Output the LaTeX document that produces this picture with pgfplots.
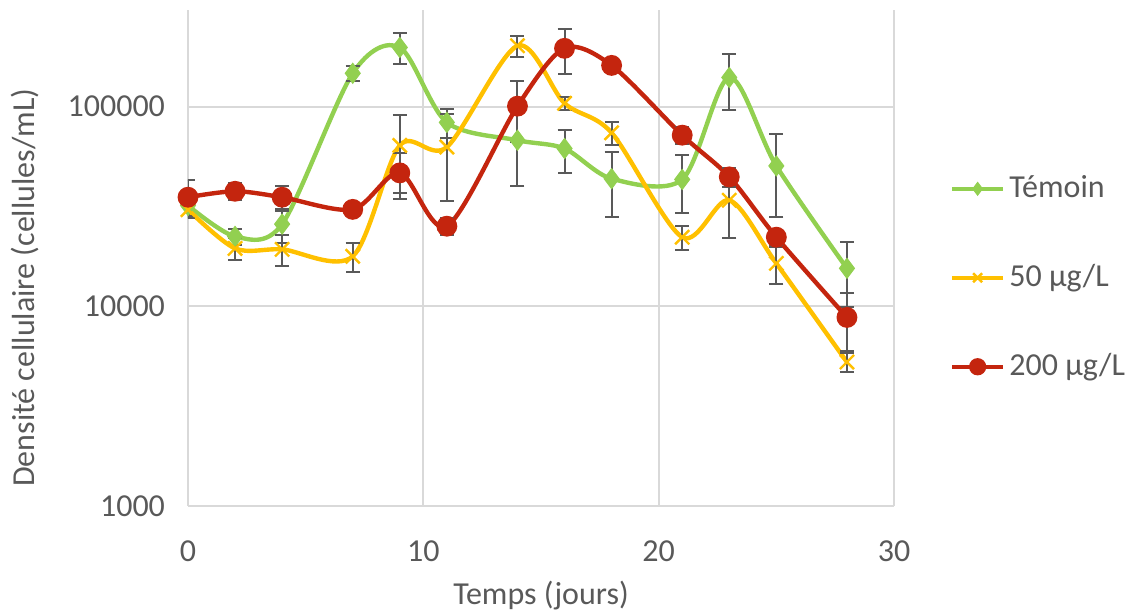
\documentclass[border=0pt]{standalone}
\usepackage{pgfplots}
\pgfplotsset{compat=1.18}
\usepackage{fontspec}
\setmainfont{Carlito}
\definecolor{cgreen}{HTML}{92D050}
\definecolor{cyellow}{HTML}{FFC000}
\definecolor{cred}{HTML}{C4250E}
\definecolor{cgrid}{HTML}{D9D9D9}
\definecolor{ctext}{HTML}{595959}
\begin{document}
\fontsize{16}{19}\selectfont
\begin{tikzpicture}
\useasboundingbox (-94pt,-52pt) rectangle (472.5pt,253pt);
\begin{axis}[
  at={(0,0)}, anchor=south west,
  scale only axis,
  width=353pt, height=248pt,
  xmin=0, xmax=30, ymode=log, ymin=1000, ymax=305000,
  xtick={0,10,20,30},
  ytick={1000,10000,100000},
  yticklabels={1000,10000,100000},
  minor ytick={}, yminorgrids=false,
  xmajorgrids, ymajorgrids,
  grid style={cgrid, line width=1pt},
  axis line style={draw=none},
  tick style={draw=none},
  tick label style={text=ctext, font=\fontsize{16}{19}\selectfont},
  /pgf/number format/assume math mode=true,
  xticklabel style={yshift=-12pt},
  yticklabel style={xshift=-6pt},
  xlabel={Temps (jours)},
  ylabel={Densité cellulaire (cellules/mL)},
  label style={text=ctext, font=\fontsize{16}{19}\selectfont},
  xlabel style={at={(axis description cs:0.5,-0.18)}, anchor=center},
  ylabel style={at={(axis description cs:-0.231,0.44)}, anchor=center},
  legend style={draw=none, fill=none, at={(axis description cs:1.07,0.46)}, anchor=west,
    font=\fontsize{16}{19}\selectfont, text=ctext, row sep=27pt},
  legend cell align=left,
  legend image code/.code={%
    \draw[#1, mark=none] (0cm,0cm) -- (0.9cm,0cm);%
    \draw[#1, only marks, mark size=3.2pt] plot coordinates {(0.45cm,0cm)};},
  error bars/y dir=both, error bars/y explicit,
  error bars/error bar style={color=ctext, line width=1pt},
  error bars/error mark options={rotate=90, mark size=3.5pt, line width=1pt, color=ctext},
]
\addplot[cgreen, line width=2.2pt, smooth, mark=diamond*, mark size=5pt, mark options={fill=cgreen, draw=cgreen, line width=0.5pt}]
coordinates {
(0,32000) +- (0,3000)
(2,22400) +- (0,2000)
(4,25800) +- (0,5000)
(7,147000) +- (0,12000)
(9,198000) +- (0,35000)
(11,83400) +- (0,14000)
(14,67900) +- (0,28000)
(16,61700) +- (0,15000)
(18,43600) +- (0,15500)
(21,43200) +- (0,14000)
(23,140000) +- (0,44000)
(25,50500) +- (0,22500)
(28,15500) +- (0,5600)
};
\addlegendentry{Témoin}
\addplot[cyellow, line width=2.2pt, smooth, mark=x, mark size=5pt, mark options={draw=cyellow, line width=1.2pt}]
coordinates {
(0,30500) +- (0,2000)
(2,19500) +- (0,2400)
(4,19300) +- (0,3400)
(7,17800) +- (0,3000)
(9,64000) +- (0,27000)
(11,62800) +- (0,29000)
(14,202000) +- (0,25000)
(16,104000) +- (0,8000)
(18,74000) +- (0,10000)
(21,22200) +- (0,3000)
(23,34000) +- (0,12000)
(25,16400) +- (0,3500)
(28,5260) +- (0,550)
};
\addlegendentry{50 µg/L}
\addplot[cred, line width=2.2pt, smooth, mark=*, mark size=4.1pt, mark options={fill=cred, draw=cred}]
coordinates {
(0,35200) +- (0,7500)
(2,37700) +- (0,3800)
(4,35200) +- (0,5000)
(7,30600) +- (0,1500)
(9,46600) +- (0,12000)
(11,25200) +- (0,2500)
(14,100600) +- (0,34000)
(16,196000) +- (0,50000)
(18,161000) +- (0,8000)
(21,72000) +- (0,7000)
(23,44500) +- (0,5000)
(25,22200) +- (0,2000)
(28,8800) +- (0,2800)
};
\addlegendentry{200 µg/L}
\end{axis}
\end{tikzpicture}
\end{document}
